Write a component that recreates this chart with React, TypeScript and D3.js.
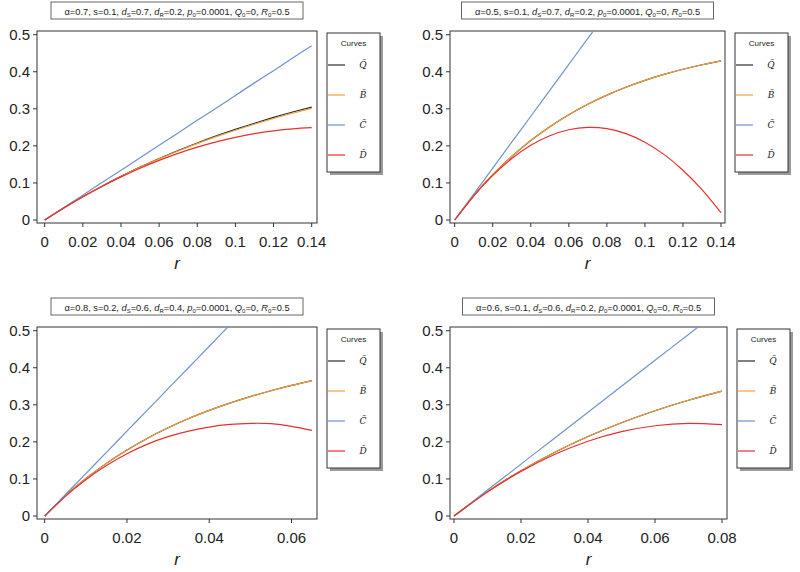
import React from "react";
import * as d3 from "d3";

// ---------- data ----------
const yTicks = [0, 0.1, 0.2, 0.3, 0.4, 0.5];
const xTicksWide = [0, 0.02, 0.04, 0.06, 0.08, 0.1, 0.12, 0.14];
const xTicksP3 = [0, 0.02, 0.04, 0.06];
const xTicksP4 = [0, 0.02, 0.04, 0.06, 0.08];

// Panel 1: α=0.7, s=0.1, dS=0.7, dR=0.2
const p1R = [0, 0.01, 0.02, 0.03, 0.04, 0.05, 0.06, 0.07, 0.08, 0.09, 0.1, 0.11, 0.12, 0.13, 0.14];
const p1Q = [0, 0.0325, 0.0629, 0.0913, 0.1178, 0.1427, 0.1659, 0.1876, 0.2079, 0.2269, 0.2447, 0.2612, 0.2768, 0.2913, 0.3048];
const p1B = [0, 0.0325, 0.0629, 0.0912, 0.1174, 0.1419, 0.1648, 0.1862, 0.2061, 0.2249, 0.2423, 0.2584, 0.2738, 0.2880, 0.3010];
const p1C = [0, 0.034, 0.067, 0.101, 0.134, 0.168, 0.202, 0.235, 0.269, 0.302, 0.336, 0.37, 0.403, 0.437, 0.47];
const p1D = [0, 0.0325, 0.0627, 0.0906, 0.1163, 0.1398, 0.161, 0.1799, 0.1966, 0.211, 0.2231, 0.233, 0.2406, 0.246, 0.2491];

// Panel 2: α=0.5, s=0.1, dS=0.7, dR=0.2
const p2R = [0, 0.01, 0.02, 0.03, 0.04, 0.05, 0.06, 0.07, 0.08, 0.09, 0.1, 0.11, 0.12, 0.13, 0.14];
const p2Q = [0, 0.0653, 0.1221, 0.1715, 0.2144, 0.2517, 0.2841, 0.3123, 0.3369, 0.3582, 0.3767, 0.3928, 0.4068, 0.419, 0.4296];
const p2B = [0, 0.0653, 0.1221, 0.1715, 0.2144, 0.2517, 0.2841, 0.3123, 0.3369, 0.3582, 0.3767, 0.3928, 0.4068, 0.419, 0.4296];
const p2C = [0, 0.07, 0.14, 0.21, 0.28, 0.35, 0.42, 0.49, 0.56, 0.63, 0.7, 0.77, 0.84, 0.91, 0.98];
const p2D = [0, 0.0651, 0.1204, 0.1659, 0.2016, 0.2275, 0.2436, 0.2499, 0.2464, 0.2331, 0.21, 0.1771, 0.1344, 0.0819, 0.0196];

// Panel 3: α=0.8, s=0.2, dS=0.6, dR=0.4
const p3R = [0, 0.005, 0.01, 0.015, 0.02, 0.025, 0.03, 0.035, 0.04, 0.045, 0.05, 0.055, 0.06, 0.065];
const p3Q = [0, 0.054, 0.101, 0.142, 0.178, 0.21, 0.238, 0.263, 0.285, 0.3045, 0.322, 0.338, 0.3525, 0.3655];
const p3B = [0, 0.054, 0.101, 0.142, 0.178, 0.21, 0.238, 0.263, 0.285, 0.3045, 0.322, 0.338, 0.3525, 0.3655];
const p3C = [0, 0.0573, 0.1145, 0.1718, 0.229, 0.2863, 0.3435, 0.4008, 0.458, 0.5153, 0.5725, 0.6298, 0.687, 0.7443];
const p3D = [0, 0.053, 0.098, 0.136, 0.168, 0.194, 0.214, 0.229, 0.24, 0.247, 0.25, 0.249, 0.242, 0.231];

// Panel 4: α=0.6, s=0.1, dS=0.6, dR=0.2
const p4R = [0, 0.01, 0.02, 0.03, 0.04, 0.05, 0.06, 0.07, 0.08];
const p4Q = [0, 0.0653, 0.1221, 0.1715, 0.2144, 0.2517, 0.2841, 0.3123, 0.3369];
const p4B = [0, 0.0653, 0.1221, 0.1715, 0.2144, 0.2517, 0.2841, 0.3123, 0.3369];
const p4C = [0, 0.07, 0.14, 0.21, 0.28, 0.35, 0.42, 0.49, 0.56];
const p4D = [0, 0.0651, 0.1204, 0.1659, 0.2016, 0.2275, 0.2436, 0.2499, 0.2464];

const seriesNames = ["Q", "B", "C", "D"];
const seriesColors = ["#2b2b2b", "#F5A040", "#7093CB", "#E8302F"];

type Param = { sym: string; sub?: string; val: string; italic?: boolean };
const params1: Param[] = [
  { sym: "α", val: "0.7" }, { sym: "s", val: "0.1" }, { sym: "d", sub: "S", val: "0.7", italic: true },
  { sym: "d", sub: "R", val: "0.2", italic: true }, { sym: "p", sub: "0", val: "0.0001", italic: true },
  { sym: "Q", sub: "0", val: "0", italic: true }, { sym: "R", sub: "0", val: "0.5", italic: true },
];
const params2: Param[] = [
  { sym: "α", val: "0.5" }, { sym: "s", val: "0.1" }, { sym: "d", sub: "S", val: "0.7", italic: true },
  { sym: "d", sub: "R", val: "0.2", italic: true }, { sym: "p", sub: "0", val: "0.0001", italic: true },
  { sym: "Q", sub: "0", val: "0", italic: true }, { sym: "R", sub: "0", val: "0.5", italic: true },
];
const params3: Param[] = [
  { sym: "α", val: "0.8" }, { sym: "s", val: "0.2" }, { sym: "d", sub: "S", val: "0.6", italic: true },
  { sym: "d", sub: "R", val: "0.4", italic: true }, { sym: "p", sub: "0", val: "0.0001", italic: true },
  { sym: "Q", sub: "0", val: "0", italic: true }, { sym: "R", sub: "0", val: "0.5", italic: true },
];
const params4: Param[] = [
  { sym: "α", val: "0.6" }, { sym: "s", val: "0.1" }, { sym: "d", sub: "S", val: "0.6", italic: true },
  { sym: "d", sub: "R", val: "0.2", italic: true }, { sym: "p", sub: "0", val: "0.0001", italic: true },
  { sym: "Q", sub: "0", val: "0", italic: true }, { sym: "R", sub: "0", val: "0.5", italic: true },
];

const FONT = "'Liberation Sans', Arial, sans-serif";

type PanelProps = {
  id: string;
  oy: number;
  boxL: number;
  boxR: number;
  x0: number;
  x1: number;
  xMaxTick: number;
  xTicks: number[];
  r: number[];
  series: number[][];
  params: Param[];
};

function fmt(v: number) {
  return v === 0 ? "0" : String(+v.toFixed(2));
}

function Panel({ id, oy, boxL, boxR, x0, x1, xMaxTick, xTicks, r, series, params }: PanelProps) {
  const boxT = 31 + oy;
  const boxB = 223 + oy;
  const x = d3.scaleLinear().domain([0, xMaxTick]).range([x0, x1]);
  const y = d3.scaleLinear().domain([0, 0.5]).range([220 + oy, 34.7 + oy]);
  const line = d3
    .line<number>()
    .x((_, i) => x(r[i]))
    .y((d) => y(d))
    .curve(d3.curveNatural);
  const cx = (boxL + boxR) / 2;
  const legL = boxR + 10;
  const legT = 33 + oy;
  const legW = 53;
  const legH = 139;
  return (
    <g>
      <defs>
        <clipPath id={id}>
          <rect x={boxL} y={boxT} width={boxR - boxL} height={boxB - boxT} />
        </clipPath>
      </defs>
      {/* title */}
      <rect x={cx - 126} y={2 + oy} width={252} height={17} fill="#fff" stroke="#666" strokeWidth={1} />
      <text x={cx} y={14.5 + oy} textAnchor="middle" fontFamily={FONT} fontSize={9.3} fill="#222">
        {params.map((p, i) => (
          <React.Fragment key={i}>
            <tspan fontStyle={p.italic ? "italic" : "normal"}>{p.sym}</tspan>
            {p.sub ? (
              <tspan fontSize={6} dy={2}>
                {p.sub}
              </tspan>
            ) : null}
            <tspan dy={p.sub ? -2 : 0}>{"=" + p.val + (i < params.length - 1 ? ", " : "")}</tspan>
          </React.Fragment>
        ))}
      </text>
      {/* plot box */}
      <rect x={boxL} y={boxT} width={boxR - boxL} height={boxB - boxT} fill="#fff" stroke="#333" strokeWidth={1} />
      {/* curves */}
      <g clipPath={`url(#${id})`}>
        {series.map((s, i) => (
          <path key={i} d={line(s) || ""} fill="none" stroke={seriesColors[i]} strokeWidth={1.2} />
        ))}
      </g>
      {/* y axis */}
      {yTicks.map((t) => (
        <g key={"y" + t}>
          <line x1={boxL - 4} x2={boxL} y1={y(t)} y2={y(t)} stroke="#333" />
          <text x={boxL - 7} y={y(t) + 5} textAnchor="end" fontFamily={FONT} fontSize={15} fill="#222">
            {fmt(t)}
          </text>
        </g>
      ))}
      {/* x axis */}
      {xTicks.map((t) => (
        <g key={"x" + t}>
          <line x1={x(t)} x2={x(t)} y1={boxB} y2={boxB + 4} stroke="#333" />
          <text x={x(t)} y={boxB + 24} textAnchor="middle" fontFamily={FONT} fontSize={15} fill="#222">
            {fmt(t)}
          </text>
        </g>
      ))}
      <text x={cx} y={boxB + 46} textAnchor="middle" fontFamily={FONT} fontSize={17} fontStyle="italic" fill="#222">
        r
      </text>
      {/* legend */}
      <rect x={legL + 3} y={legT + 3} width={legW} height={legH} fill="#9a9a9a" />
      <rect x={legL} y={legT} width={legW} height={legH} fill="#fff" stroke="#333" strokeWidth={1} />
      <text x={legL + legW / 2} y={legT + 13} textAnchor="middle" fontFamily={FONT} fontSize={8} fill="#222">
        Curves
      </text>
      {seriesNames.map((n, i) => (
        <g key={n}>
          <line
            x1={legL + 1}
            x2={legL + 18}
            y1={legT + 32 + i * 30}
            y2={legT + 32 + i * 30}
            stroke={seriesColors[i]}
            strokeWidth={1.2}
          />
          <text
            x={legL + 36}
            y={legT + 35 + i * 30}
            textAnchor="middle"
            fontFamily="'DejaVu Serif', serif"
            fontStyle="italic"
            fontSize={9}
            fill="#222"
          >
            {n + "\u0303"}
          </text>
        </g>
      ))}
    </g>
  );
}

export default function App() {
  return (
    <svg
      width={800}
      height={572}
      style={{ position: "absolute", left: 0, top: 0, background: "#fff" }}
    >
      <rect width={800} height={572} fill="#fff" />
      <Panel
        id="c1" oy={0} boxL={37} boxR={317} x0={44.7} x1={311.7} xMaxTick={0.14}
        xTicks={xTicksWide} r={p1R} series={[p1Q, p1B, p1C, p1D]} params={params1}
      />
      <Panel
        id="c2" oy={0} boxL={450} boxR={725} x0={454.7} x1={721} xMaxTick={0.14}
        xTicks={xTicksWide} r={p2R} series={[p2Q, p2B, p2C, p2D]} params={params2}
      />
      <Panel
        id="c3" oy={296} boxL={37} boxR={317} x0={44.7} x1={291.5} xMaxTick={0.06}
        xTicks={xTicksP3} r={p3R} series={[p3Q, p3B, p3C, p3D]} params={params3}
      />
      <Panel
        id="c4" oy={296} boxL={450} boxR={727} x0={454} x1={722} xMaxTick={0.08}
        xTicks={xTicksP4} r={p4R} series={[p4Q, p4B, p4C, p4D]} params={params4}
      />
    </svg>
  );
}
